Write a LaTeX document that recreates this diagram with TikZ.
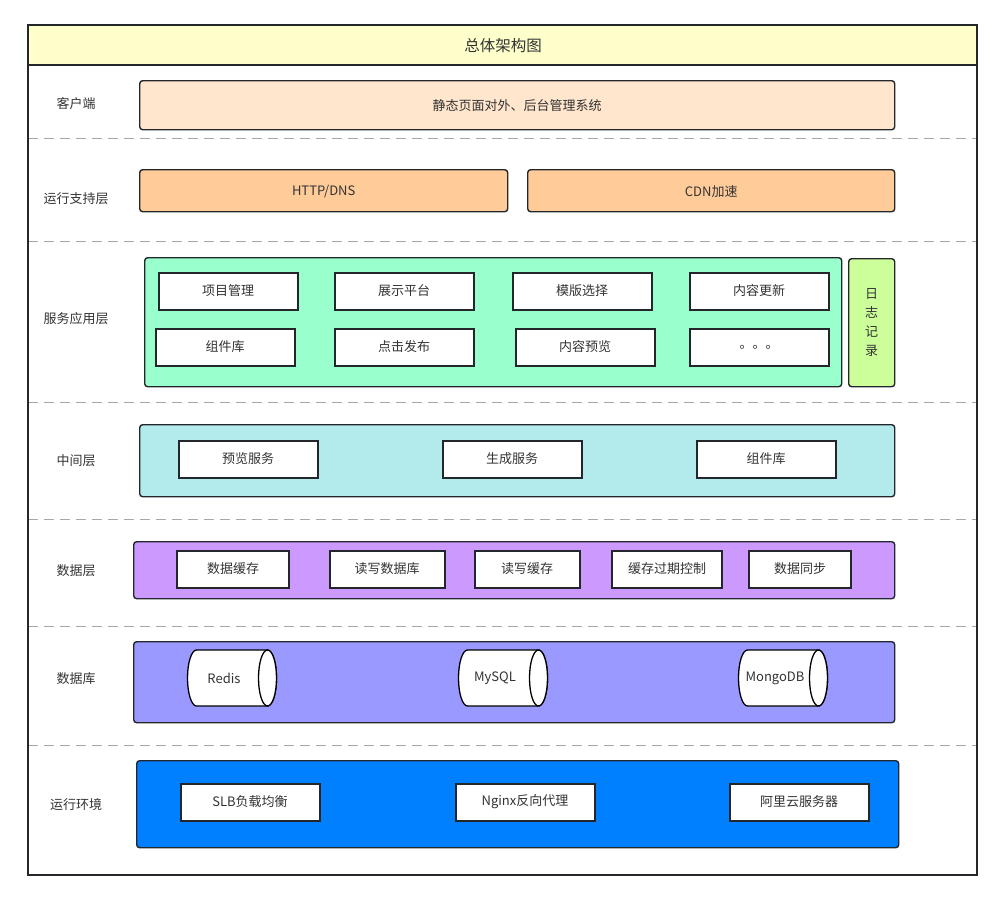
\documentclass[tikz,border=0pt]{standalone}
\usepackage{fontspec}
\setmainfont{Noto Sans CJK SC}
\usepackage{xcolor}
\usetikzlibrary{positioning}

\definecolor{titlebg}{HTML}{FFFFCC}
\definecolor{clientbg}{HTML}{FFE6CC}
\definecolor{supportbg}{HTML}{FFCC99}
\definecolor{servicebg}{HTML}{99FFCC}
\definecolor{logbg}{HTML}{CCFF99}
\definecolor{middlebg}{HTML}{B3EAEC}
\definecolor{databg}{HTML}{CC99FF}
\definecolor{dbbg}{HTML}{9999FF}
\definecolor{envbg}{HTML}{007FFF}
\definecolor{txt}{HTML}{333333}
\definecolor{edge}{HTML}{23272B}

\tikzset{
    every node/.style={font=\fontsize{13}{15}\selectfont, text=txt},
    layer/.style={draw=edge, line width=1.4pt, rounded corners=3pt, anchor=north west},
    item/.style={draw=edge, line width=2pt, fill=white, minimum height=37pt},
    layername/.style={anchor=center},
    dbspot/.style={minimum width=89pt, minimum height=56pt, inner sep=0pt},
    dbline/.style={draw=black, line width=1.3pt, fill=white}
}

\begin{document}
\begin{tikzpicture}[x=1pt, y=-1pt]
    \useasboundingbox (0,0) rectangle (1004,900);

    % title band and frame
    \fill[titlebg] (28,25) rectangle (977,65);
    \node (title) at (503,45.5) {\fontsize{15.5}{17}\selectfont 总体架构图};
    \draw[edge, line width=1.4pt] (28,65) -- (977,65);

    % dashed separators
    \foreach \y in {138,241,402,519,626,745}
    {
        \draw[gray!70, line width=1pt, dash pattern=on 10pt off 6pt] (28,\y) -- (977,\y);
    }

    % layer names
    \foreach \name/\y/\t in {
        lclient/103.5/客户端,
        lsupport/198.5/运行支持层,
        lservice/318.5/服务应用层,
        lmiddle/460.5/中间层,
        ldata/570.5/数据层,
        ldb/678.5/数据库,
        lenv/804.5/运行环境}{
        \node[layername] (\name) at (76,\y) {\t};
    }

    % client
    \node[layer, fill=clientbg, minimum width=755pt, minimum height=49pt] (client) at (139,80) {};
    \node (clienttext) at ([yshift=-0.5pt]client.center) {静态页面对外、后台管理系统};

    % support layer
    \node[layer, fill=supportbg, minimum width=368pt, minimum height=42pt] (http) at (139,169) {};
    \node at ([yshift=-0.5pt]http.center) {HTTP/DNS};
    \node[layer, fill=supportbg, minimum width=367pt, minimum height=42pt] (cdn) at (527,169) {};
    \node at ([yshift=-0.5pt]cdn.center) {CDN加速};

    % service layer
    \node[layer, fill=servicebg, minimum width=697pt, minimum height=129pt] (service) at (144,257) {};
    \node[layer, fill=logbg, minimum width=46pt, minimum height=128pt] (log) at (848,258) {};
    \node[align=center, font=\fontsize{13}{19}\selectfont] (logtext) at (log.center) {日\\志\\记\\录};
    \foreach \name/\x/\y/\t in {
        proj/228/291/项目管理,
        show/404/291/展示平台,
        tmpl/582/291/模版选择,
        upd/759/291/内容更新,
        comp/225/347/组件库,
        pub/404/347/点击发布,
        prev/585/347/内容预览,
        more/759/347/。。。}{
        \node[item, minimum width=139pt] (\name) at (\x,\y) {\t};
    }

    % middle layer
    \node[layer, fill=middlebg, minimum width=755pt, minimum height=72pt] (middle) at (139,424) {};
    \foreach \name/\x/\t in {
        prevsvc/248/预览服务,
        gensvc/512/生成服务,
        complib/766/组件库}{
        \node[item, minimum width=139pt] (\name) at (\x,459) {\t};
    }

    % data layer
    \node[layer, fill=databg, minimum width=761pt, minimum height=57pt] (data) at (133,541) {};
    \foreach \name/\x/\w/\t in {
        cache/233/112/数据缓存,
        rwdb/387/115/读写数据库,
        rwcache/527/105/读写缓存,
        expire/667/110/缓存过期控制,
        sync/800/102/数据同步}{
        \node[item, minimum width=\w pt] (\name) at (\x,569) {\t};
    }

    % database layer
    \node[layer, fill=dbbg, minimum width=761pt, minimum height=81pt] (db) at (133,641) {};
    \foreach \name/\x/\t in {
        redis/232/Redis,
        mysql/503/MySQL,
        mongo/783/MongoDB}{
        \node[dbspot] (\name) at (\x,678) {};
        % cylinder body, then its right end
        \draw[dbline] (\x-35.5,650) arc[start angle=270, end angle=90, x radius=9, y radius=28]
            -- (\x+35.5,706) arc[start angle=90, end angle=-90, x radius=9, y radius=28] -- cycle;
        \draw[dbline] (\x+35.5,678) ellipse [x radius=9, y radius=28];
        \node (\name text) at (\x-8,678.5) {\t};
    }

    % runtime environment
    \node[layer, fill=envbg, minimum width=762pt, minimum height=87pt] (env) at (136,760) {};
    \foreach \name/\x/\t in {
        slb/250/SLB负载均衡,
        nginx/525/Nginx反向代理,
        ali/799/阿里云服务器}{
        \node[item, minimum width=139pt] (\name) at (\x,802) {\t};
    }

    % border
    \draw[edge, line width=2pt] (28,25) rectangle (977,875);
\end{tikzpicture}
\end{document}
